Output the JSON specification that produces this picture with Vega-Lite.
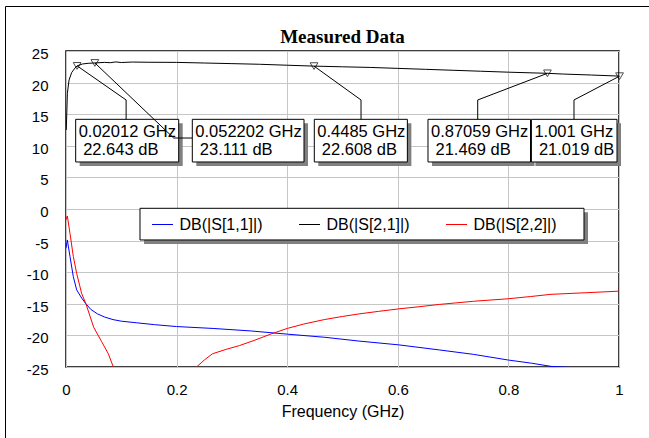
{
  "$schema": "https://vega.github.io/schema/vega-lite/v6.json",
  "width": 553,
  "height": 316,
  "autosize": {"type": "none"},
  "padding": {"left": 66, "top": 51, "right": 30, "bottom": 71},
  "background": "white",
  "config": {
    "font": "Liberation Sans",
    "view": {"stroke": "#000", "strokeWidth": 1.5},
    "axis": {
      "gridColor": "#c6c6c6", "gridWidth": 1, "domain": false, "ticks": false,
      "labelColor": "#000", "labelFontSize": 15, "labelFont": "Liberation Sans",
      "titleColor": "#000", "titleFontSize": 16, "titleFontWeight": "normal", "titleFont": "Liberation Sans"
    }
  },
  "title": {
    "text": "Measured Data", "font": "Liberation Serif", "fontSize": 19, "fontWeight": "bold",
    "color": "#000", "anchor": "middle", "frame": "group", "baseline": "alphabetic", "offset": -56
  },
  "datasets": {
    "curves": [
      {"series": "DB(|S[1,1]|)", "f": 0, "db": -6.2},
      {"series": "DB(|S[1,1]|)", "f": 0.0024, "db": -4.9},
      {"series": "DB(|S[1,1]|)", "f": 0.0072, "db": -7.5},
      {"series": "DB(|S[1,1]|)", "f": 0.0132, "db": -10.7},
      {"series": "DB(|S[1,1]|)", "f": 0.0193, "db": -12.8},
      {"series": "DB(|S[1,1]|)", "f": 0.0284, "db": -14.1},
      {"series": "DB(|S[1,1]|)", "f": 0.036, "db": -15.0},
      {"series": "DB(|S[1,1]|)", "f": 0.045, "db": -15.9},
      {"series": "DB(|S[1,1]|)", "f": 0.057, "db": -16.6},
      {"series": "DB(|S[1,1]|)", "f": 0.07, "db": -17.1},
      {"series": "DB(|S[1,1]|)", "f": 0.085, "db": -17.5},
      {"series": "DB(|S[1,1]|)", "f": 0.1, "db": -17.75},
      {"series": "DB(|S[1,1]|)", "f": 0.127, "db": -18.0},
      {"series": "DB(|S[1,1]|)", "f": 0.16, "db": -18.3},
      {"series": "DB(|S[1,1]|)", "f": 0.2, "db": -18.6},
      {"series": "DB(|S[1,1]|)", "f": 0.266, "db": -18.9},
      {"series": "DB(|S[1,1]|)", "f": 0.335, "db": -19.3},
      {"series": "DB(|S[1,1]|)", "f": 0.4, "db": -19.8},
      {"series": "DB(|S[1,1]|)", "f": 0.468, "db": -20.3},
      {"series": "DB(|S[1,1]|)", "f": 0.53, "db": -20.9},
      {"series": "DB(|S[1,1]|)", "f": 0.602, "db": -21.5},
      {"series": "DB(|S[1,1]|)", "f": 0.675, "db": -22.3},
      {"series": "DB(|S[1,1]|)", "f": 0.737, "db": -23.0},
      {"series": "DB(|S[1,1]|)", "f": 0.8, "db": -23.9},
      {"series": "DB(|S[1,1]|)", "f": 0.842, "db": -24.4},
      {"series": "DB(|S[1,1]|)", "f": 0.877, "db": -24.9},
      {"series": "DB(|S[1,1]|)", "f": 0.9, "db": -25.02},
      {"series": "DB(|S[1,1]|)", "f": 0.93, "db": -25.15},
      {"series": "DB(|S[1,1]|)", "f": 0.96, "db": -25.1},
      {"series": "DB(|S[1,1]|)", "f": 1.0, "db": -25.4},

      {"series": "DB(|S[2,1]|)", "f": 0.0005, "db": 12.5},
      {"series": "DB(|S[2,1]|)", "f": 0.0025, "db": 18.3},
      {"series": "DB(|S[2,1]|)", "f": 0.0055, "db": 20.4},
      {"series": "DB(|S[2,1]|)", "f": 0.0103, "db": 21.6},
      {"series": "DB(|S[2,1]|)", "f": 0.0163, "db": 22.3},
      {"series": "DB(|S[2,1]|)", "f": 0.02012, "db": 22.643},
      {"series": "DB(|S[2,1]|)", "f": 0.03, "db": 22.95},
      {"series": "DB(|S[2,1]|)", "f": 0.04, "db": 23.05},
      {"series": "DB(|S[2,1]|)", "f": 0.052202, "db": 23.111},
      {"series": "DB(|S[2,1]|)", "f": 0.07, "db": 23.2},
      {"series": "DB(|S[2,1]|)", "f": 0.08, "db": 23.15},
      {"series": "DB(|S[2,1]|)", "f": 0.09, "db": 23.27},
      {"series": "DB(|S[2,1]|)", "f": 0.1, "db": 23.18},
      {"series": "DB(|S[2,1]|)", "f": 0.12, "db": 23.25},
      {"series": "DB(|S[2,1]|)", "f": 0.15, "db": 23.22},
      {"series": "DB(|S[2,1]|)", "f": 0.2, "db": 23.2},
      {"series": "DB(|S[2,1]|)", "f": 0.25, "db": 23.1},
      {"series": "DB(|S[2,1]|)", "f": 0.3, "db": 23.0},
      {"series": "DB(|S[2,1]|)", "f": 0.35, "db": 22.9},
      {"series": "DB(|S[2,1]|)", "f": 0.4, "db": 22.75},
      {"series": "DB(|S[2,1]|)", "f": 0.4485, "db": 22.608},
      {"series": "DB(|S[2,1]|)", "f": 0.5, "db": 22.5},
      {"series": "DB(|S[2,1]|)", "f": 0.55, "db": 22.4},
      {"series": "DB(|S[2,1]|)", "f": 0.6, "db": 22.25},
      {"series": "DB(|S[2,1]|)", "f": 0.65, "db": 22.1},
      {"series": "DB(|S[2,1]|)", "f": 0.7, "db": 21.95},
      {"series": "DB(|S[2,1]|)", "f": 0.75, "db": 21.8},
      {"series": "DB(|S[2,1]|)", "f": 0.8, "db": 21.65},
      {"series": "DB(|S[2,1]|)", "f": 0.85, "db": 21.52},
      {"series": "DB(|S[2,1]|)", "f": 0.87059, "db": 21.469},
      {"series": "DB(|S[2,1]|)", "f": 0.9, "db": 21.35},
      {"series": "DB(|S[2,1]|)", "f": 0.95, "db": 21.2},
      {"series": "DB(|S[2,1]|)", "f": 1.0, "db": 21.03},

      {"series": "DB(|S[2,2]|)", "f": 0, "db": -1.7},
      {"series": "DB(|S[2,2]|)", "f": 0.0024, "db": -1.1},
      {"series": "DB(|S[2,2]|)", "f": 0.0072, "db": -3.85},
      {"series": "DB(|S[2,2]|)", "f": 0.0132, "db": -7.5},
      {"series": "DB(|S[2,2]|)", "f": 0.0193, "db": -10.2},
      {"series": "DB(|S[2,2]|)", "f": 0.0284, "db": -13.4},
      {"series": "DB(|S[2,2]|)", "f": 0.036, "db": -15.0},
      {"series": "DB(|S[2,2]|)", "f": 0.05, "db": -18.7},
      {"series": "DB(|S[2,2]|)", "f": 0.0645, "db": -21.0},
      {"series": "DB(|S[2,2]|)", "f": 0.0765, "db": -22.9},
      {"series": "DB(|S[2,2]|)", "f": 0.0856, "db": -25.0},
      {"series": "DB(|S[2,2]|)", "f": 0.095, "db": -27.5},
      {"series": "DB(|S[2,2]|)", "f": 0.12, "db": -31.0},
      {"series": "DB(|S[2,2]|)", "f": 0.16, "db": -33.0},
      {"series": "DB(|S[2,2]|)", "f": 0.2, "db": -30.0},
      {"series": "DB(|S[2,2]|)", "f": 0.225, "db": -26.6},
      {"series": "DB(|S[2,2]|)", "f": 0.236, "db": -25.0},
      {"series": "DB(|S[2,2]|)", "f": 0.25, "db": -23.9},
      {"series": "DB(|S[2,2]|)", "f": 0.265, "db": -22.9},
      {"series": "DB(|S[2,2]|)", "f": 0.29, "db": -22.2},
      {"series": "DB(|S[2,2]|)", "f": 0.314, "db": -21.6},
      {"series": "DB(|S[2,2]|)", "f": 0.34, "db": -20.8},
      {"series": "DB(|S[2,2]|)", "f": 0.37, "db": -19.8},
      {"series": "DB(|S[2,2]|)", "f": 0.4, "db": -18.9},
      {"series": "DB(|S[2,2]|)", "f": 0.43, "db": -18.2},
      {"series": "DB(|S[2,2]|)", "f": 0.467, "db": -17.5},
      {"series": "DB(|S[2,2]|)", "f": 0.5, "db": -17.0},
      {"series": "DB(|S[2,2]|)", "f": 0.53, "db": -16.6},
      {"series": "DB(|S[2,2]|)", "f": 0.565, "db": -16.2},
      {"series": "DB(|S[2,2]|)", "f": 0.602, "db": -15.8},
      {"series": "DB(|S[2,2]|)", "f": 0.64, "db": -15.45},
      {"series": "DB(|S[2,2]|)", "f": 0.675, "db": -15.1},
      {"series": "DB(|S[2,2]|)", "f": 0.737, "db": -14.6},
      {"series": "DB(|S[2,2]|)", "f": 0.8, "db": -14.2},
      {"series": "DB(|S[2,2]|)", "f": 0.84, "db": -13.85},
      {"series": "DB(|S[2,2]|)", "f": 0.877, "db": -13.5},
      {"series": "DB(|S[2,2]|)", "f": 0.94, "db": -13.25},
      {"series": "DB(|S[2,2]|)", "f": 1.0, "db": -13.0}
    ],
    "markers": [
      {"f": 0.02012, "db": 22.643},
      {"f": 0.052202, "db": 23.111},
      {"f": 0.4485, "db": 22.608},
      {"f": 0.87059, "db": 21.469},
      {"f": 1.001, "db": 21.019}
    ],
    "boxes": [
      {"f": 0.0175, "f2": 0.2038, "db": 14.19, "db2": 7.44, "line1": "0.02012 GHz", "line2": "22.643 dB"},
      {"f": 0.2284, "f2": 0.4304, "db": 14.19, "db2": 7.44, "line1": "0.052202 GHz", "line2": "23.111 dB"},
      {"f": 0.449, "f2": 0.6173, "db": 14.19, "db2": 7.44, "line1": "0.4485 GHz", "line2": "22.608 dB"},
      {"f": 0.6546, "f2": 0.84, "db": 14.19, "db2": 7.44, "line1": "0.87059 GHz", "line2": "21.469 dB"},
      {"f": 0.8416, "f2": 0.9964, "db": 14.19, "db2": 7.44, "line1": "1.001 GHz", "line2": "21.019 dB"},
      {"f": 0.1338, "f2": 0.9367, "db": 0.11, "db2": -4.9, "line1": "", "line2": ""}
    ],
    "leaders": [
      {"id": 1, "seq": 1, "f": 0.02012, "db": 22.643},
      {"id": 1, "seq": 2, "f": 0.1087, "db": 17.25},
      {"id": 1, "seq": 3, "f": 0.1087, "db": 14.19},
      {"id": 2, "seq": 1, "f": 0.052202, "db": 23.111},
      {"id": 2, "seq": 2, "f": 0.1947, "db": 11.23},
      {"id": 2, "seq": 3, "f": 0.2284, "db": 11.23},
      {"id": 3, "seq": 1, "f": 0.4485, "db": 22.608},
      {"id": 3, "seq": 2, "f": 0.5335, "db": 17.25},
      {"id": 3, "seq": 3, "f": 0.5335, "db": 14.19},
      {"id": 4, "seq": 1, "f": 0.87059, "db": 21.469},
      {"id": 4, "seq": 2, "f": 0.7445, "db": 17.25},
      {"id": 4, "seq": 3, "f": 0.7445, "db": 14.19},
      {"id": 5, "seq": 1, "f": 1.001, "db": 21.019},
      {"id": 5, "seq": 2, "f": 0.9186, "db": 17.25},
      {"id": 5, "seq": 3, "f": 0.9186, "db": 14.19}
    ],
    "frameV": [{"f": -0.1094, "db": 32.04, "db2": -37}],
    "frameH": [{"f": -0.1094, "f2": 1.06, "db": 32.04}]
  },
  "encoding": {
    "x": {
      "field": "f", "type": "quantitative", "title": "Frequency (GHz)",
      "scale": {"domain": [0, 1], "nice": false, "zero": false},
      "axis": {"values": [0, 0.2, 0.4, 0.6, 0.8, 1], "labelExpr": "'' + datum.value", "labelFlush": false, "labelPadding": 15, "titlePadding": 6}
    },
    "y": {
      "field": "db", "type": "quantitative", "title": null,
      "scale": {"domain": [-25, 25], "nice": false, "zero": false},
      "axis": {"values": [-25, -20, -15, -10, -5, 0, 5, 10, 15, 20, 25], "labelExpr": "'' + datum.value", "labelPadding": 18, "labelOffset": 2.5}
    }
  },
  "layer": [
    {
      "data": {"name": "curves"},
      "mark": {"type": "line", "strokeWidth": 1, "clip": true},
      "encoding": {
        "color": {
          "field": "series", "type": "nominal",
          "scale": {"domain": ["DB(|S[1,1]|)", "DB(|S[2,1]|)", "DB(|S[2,2]|)"], "range": ["#0000ff", "#000000", "#ff0000"]},
          "legend": {
            "orient": "none", "legendX": 85.5, "legendY": 162.5, "direction": "horizontal", "title": null,
            "symbolType": "stroke", "symbolSize": 441, "symbolStrokeWidth": 1,
            "labelFontSize": 16, "labelFont": "Liberation Sans", "labelColor": "#000",
            "labelOffset": 6, "columnPadding": 34, "padding": 0, "labelLimit": 300
          }
        },
        "order": {"field": "f", "type": "quantitative"}
      }
    },
    {
      "data": {"name": "boxes"},
      "mark": {"type": "rect", "fill": "#808080", "xOffset": 4, "x2Offset": 4, "yOffset": 4, "y2Offset": 4, "clip": false},
      "encoding": {"x2": {"field": "f2"}, "y2": {"field": "db2"}}
    },
    {
      "data": {"name": "boxes"},
      "mark": {"type": "rect", "fill": "#ffffff", "stroke": "#000000", "strokeWidth": 1, "clip": false},
      "encoding": {"x2": {"field": "f2"}, "y2": {"field": "db2"}}
    },
    {
      "data": {"name": "leaders"},
      "mark": {"type": "line", "stroke": "#000000", "strokeWidth": 1, "clip": false},
      "encoding": {"detail": {"field": "id"}, "order": {"field": "seq", "type": "quantitative"}}
    },
    {
      "data": {"name": "markers"},
      "mark": {"type": "point", "shape": "triangle-down", "filled": false, "stroke": "#000000", "strokeWidth": 1, "size": 60, "clip": false}
    },
    {
      "data": {"name": "boxes"},
      "mark": {"type": "text", "align": "left", "baseline": "middle", "dx": 3, "yOffset": 12.4, "fontSize": 16.5, "font": "Liberation Sans", "color": "#000"},
      "encoding": {"text": {"field": "line1"}}
    },
    {
      "data": {"name": "boxes"},
      "mark": {"type": "text", "align": "left", "baseline": "middle", "dx": 7.5, "yOffset": 30.7, "fontSize": 16.5, "font": "Liberation Sans", "color": "#000"},
      "encoding": {"text": {"field": "line2"}}
    },
    {
      "data": {"name": "frameV"},
      "mark": {"type": "rule", "stroke": "#000000", "strokeWidth": 1, "clip": false},
      "encoding": {"y2": {"field": "db2"}}
    },
    {
      "data": {"name": "frameH"},
      "mark": {"type": "rule", "stroke": "#000000", "strokeWidth": 1, "clip": false},
      "encoding": {"x2": {"field": "f2"}}
    }
  ]
}
